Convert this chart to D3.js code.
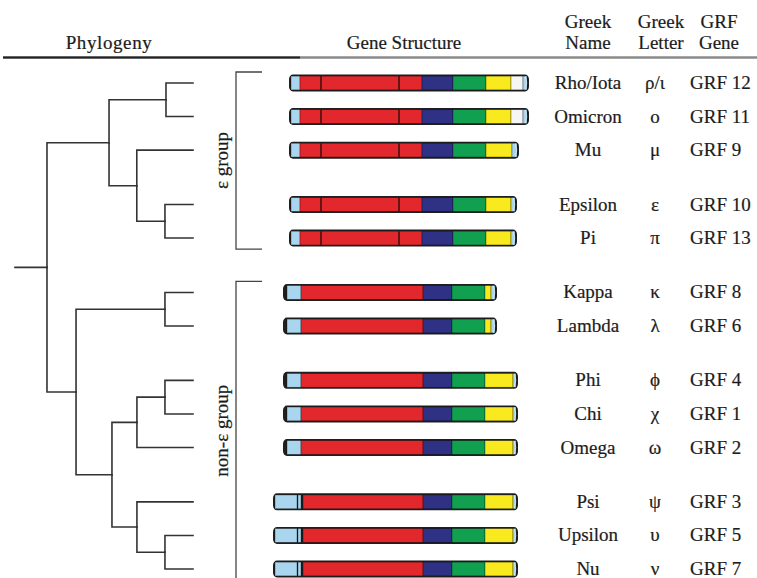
<!DOCTYPE html>
<html>
<head>
<meta charset="utf-8">
<script src="https://cdn.jsdelivr.net/npm/d3@7/dist/d3.min.js"></script>
<style>
  html, body { margin: 0; padding: 0; background: #fff; }
  svg { display: block; }
  text { font-family: "Liberation Serif", "Times New Roman", serif; fill: #1c1c1c; stroke: #1c1c1c; stroke-width: 0.2px; }
</style>
</head>
<body>
<svg id="chart" width="757" height="578"></svg>
<script>
// ---------------- DATA ----------------
const greekNames   = ["Rho/Iota","Omicron","Mu","Epsilon","Pi","Kappa","Lambda","Phi","Chi","Omega","Psi","Upsilon","Nu"];
const greekLetters = ["ρ/ι","ο","μ","ε","π","κ","λ","ϕ","χ","ω","ψ","υ","ν"];
const grfGenes     = ["GRF 12","GRF 11","GRF 9","GRF 10","GRF 13","GRF 8","GRF 6","GRF 4","GRF 1","GRF 2","GRF 3","GRF 5","GRF 7"];
const rowBlocks    = [0,0,0,1,1,2,2,3,3,3,4,4,4];   // visual blocks separated by blank gaps

const groupLabels  = ["ε group","non-ε group"];
const groupFirst   = [0,5];
const groupLast    = [4,12];

const headerLeft   = ["Phylogeny","Gene Structure"];
const headerCols   = [["Greek","Name"],["Greek","Letter"],["GRF","Gene"]];

// gene structure (positions along the gene, arbitrary units)
const geneStart = [16,16,16,16,16,10,10,10,10,10,0,0,0];
const geneEnd   = [256,256,246,244,244,224,224,245,245,245,245,245,245];
const segA = [["utr",18,27],["core",27,149],["domA",149,180],["domB",180,213],["domC",213,238],["tail",238,250],["utr",250,254]];
const segMu = [["utr",18,27],["core",27,149],["domA",149,180],["domB",180,213],["domC",213,239],["utr",239,244]];
const segE = [["utr",18,27],["core",27,149],["domA",149,180],["domB",180,213],["domC",213,238],["utr",238,242]];
const segK = [["utr",14,28],["core",28,150],["domA",150,179],["domB",179,212],["domC",212,218],["utr",218,222]];
const segP = [["utr",14,28],["core",28,150],["domA",150,179],["domB",179,212],["domC",212,240],["utr",240,243]];
const segS = [["utr",2,24],["utr",25,28],["core",30,150],["domA",150,179],["domB",179,212],["domC",212,240],["utr",240,243]];
const geneSegments = [segA,segA,segMu,segE,segE,segK,segK,segP,segP,segP,segS,segS,segS];
const geneIntrons  = [[48,126],[48,126],[48,126],[48,126],[48,126],[],[],[],[],[],[],[],[]];

// phylogeny (branch lengths, relative units)
const treeData = {children:[
  {len:0.425, children:[
    {len:0.39, children:[{name:"Rho/Iota",len:0.185},{name:"Omicron",len:0.185}]},
    {len:0.19, children:[
      {name:"Mu",len:0.385},
      {len:0.193, children:[{name:"Epsilon",len:0.192},{name:"Pi",len:0.192}]}
    ]}
  ]},
  {len:0.199, children:[
    {len:0.609, children:[{name:"Kappa",len:0.192},{name:"Lambda",len:0.192}]},
    {len:0.246, children:[
      {len:0.171, children:[
        {len:0.192, children:[{name:"Phi",len:0.192},{name:"Chi",len:0.192}]},
        {name:"Omega",len:0.384}
      ]},
      {len:0.171, children:[
        {name:"Psi",len:0.384},
        {len:0.192, children:[{name:"Upsilon",len:0.192},{name:"Nu",len:0.192}]}
      ]}
    ]}
  ]}
]};
const rootStub = 0.219;

// ---------------- STYLE ----------------
const colors = {utr:"#a9d6ee", core:"#e2282c", domA:"#2f3184", domB:"#11a04f", domC:"#f8ea1e", tail:"#f6f6f6"};
const fontSize = 19;

// ---------------- SCALES ----------------
const svg = d3.select("#chart");
const slots = greekNames.map((d,i) => i + 0.62*rowBlocks[i]);
const yRow = d3.scaleLinear().domain([0, d3.max(slots)]).range([83, 569]);
const yOf = i => yRow(slots[i]);
const xGene = d3.scaleLinear().domain([0, 256]).range([273, 529]);
const xTree = d3.scaleLinear().domain([-rootStub, 1]).range([15, 193]);

// ---------------- HEADER ----------------
const hdr = svg.append("g");
hdr.append("line").attr("x1",3).attr("x2",757).attr("y1",57.5).attr("y2",57.5)
   .attr("stroke","#8a8a8a").attr("stroke-width",2.5);
hdr.append("line").attr("x1",3).attr("x2",300).attr("y1",57.5).attr("y2",57.5)
   .attr("stroke","#222").attr("stroke-width",2);
hdr.append("text").attr("x",109).attr("y",49).attr("text-anchor","middle")
   .attr("font-size",fontSize).attr("letter-spacing",0.6).text(headerLeft[0]);
hdr.append("text").attr("x",404).attr("y",49).attr("text-anchor","middle")
   .attr("font-size",fontSize).text(headerLeft[1]);
const colX = [588, 661, 719];
headerCols.forEach((lines,c) => {
  lines.forEach((t,k) => {
    hdr.append("text").attr("x",colX[c]).attr("y",28 + k*20.5).attr("text-anchor","middle")
       .attr("font-size",fontSize).text(t);
  });
});

// ---------------- TREE ----------------
const root = d3.hierarchy(treeData);
root.eachBefore(n => { n.dist = (n.parent ? n.parent.dist : 0) + (n.data.len || 0); });
root.eachAfter(n => {
  if (!n.children) n.yy = yOf(greekNames.indexOf(n.data.name));
  else n.yy = (n.children[0].yy + n.children[n.children.length-1].yy) / 2;
});
const treeG = svg.append("g").attr("fill","none").attr("stroke","#333").attr("stroke-width",1.6)
  .attr("stroke-linecap","square");
treeG.selectAll("path.link").data(root.descendants().filter(n => n.parent)).join("path")
  .attr("class","link")
  .attr("d", n => `M${xTree(n.parent.dist)},${n.parent.yy}V${n.yy}H${xTree(n.dist)}`);
treeG.append("path").attr("d", `M${xTree(-rootStub)},${root.yy}H${xTree(0)}`);

// ---------------- GROUP BRACKETS ----------------
const brG = svg.append("g");
groupLabels.forEach((lab,g) => {
  const top = yOf(groupFirst[g]) - 11;
  const bot = yOf(groupLast[g]) + 11;
  const isLast = g === groupLabels.length - 1;
  const bEnd = isLast ? 600 : bot;
  let d = `M262,${top}H236V${bEnd}`;
  if (!isLast) d += `H262`;
  brG.append("path").attr("d", d).attr("fill","none").attr("stroke","#444").attr("stroke-width",1.3);
  const mid = (top + bot) / 2;
  brG.append("text").attr("transform", `translate(228,${mid}) rotate(-90)`)
     .attr("text-anchor","middle").attr("font-size",fontSize).text(lab);
});

// ---------------- GENE BARS ----------------
const barH = 17;
const barG = svg.append("g");
greekNames.forEach((name,i) => {
  const cy = yOf(i), y0 = cy - barH/2;
  const g = barG.append("g");
  g.append("rect").attr("x", xGene(geneStart[i])).attr("y", y0)
    .attr("width", xGene(geneEnd[i]) - xGene(geneStart[i])).attr("height", barH)
    .attr("rx", 4).attr("ry", 5).attr("fill", "#1f1f1f");
  g.selectAll("rect.seg").data(geneSegments[i]).join("rect").attr("class","seg")
    .attr("x", d => xGene(d[1])).attr("y", y0 + 1.6)
    .attr("width", d => xGene(d[2]) - xGene(d[1])).attr("height", barH - 3.2)
    .attr("fill", d => colors[d[0]])
    .attr("stroke","rgba(0,0,0,0.45)").attr("stroke-width",0.7);
  g.selectAll("line.intron").data(geneIntrons[i]).join("line").attr("class","intron")
    .attr("x1", d => xGene(d)).attr("x2", d => xGene(d))
    .attr("y1", y0 + 1.6).attr("y2", y0 + barH - 1.6)
    .attr("stroke","#4a0d0d").attr("stroke-width",1.6);
  const xe = xGene(geneEnd[i]);
  g.append("path").attr("d", `M${xe-3.5},${y0+2}Q${xe-1},${cy} ${xe-3.5},${y0+barH-2}`)
    .attr("fill","none").attr("stroke","#d9eef8").attr("stroke-width",0.9);
});

// ---------------- ROW TEXT ----------------
const txtG = svg.append("g").attr("font-size", fontSize);
txtG.selectAll("text.nm").data(greekNames).join("text").attr("class","nm")
  .attr("x", 588).attr("y", (d,i) => yOf(i) + 6).attr("text-anchor","middle").text(d => d);
txtG.selectAll("text.gl").data(greekLetters).join("text").attr("class","gl")
  .attr("x", 655).attr("y", (d,i) => yOf(i) + 6).attr("text-anchor","middle").text(d => d);
txtG.selectAll("text.grf").data(grfGenes).join("text").attr("class","grf")
  .attr("x", 690).attr("y", (d,i) => yOf(i) + 6).attr("text-anchor","start").text(d => d);
</script>
</body>
</html>
